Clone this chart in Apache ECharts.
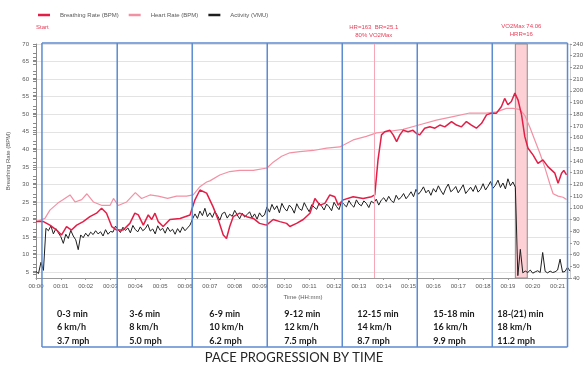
<!DOCTYPE html>
<html><head><meta charset="utf-8">
<script src="https://cdn.jsdelivr.net/npm/echarts@6/dist/echarts.min.js"></script>
<style>html,body{margin:0;padding:0;background:#fff}#c{width:588px;height:367px}</style>
</head><body><div id="c"></div>
<script>
// Breathing rate (BPM) — left axis
const brTimes = [0,0.3,0.56,0.83,1.03,1.23,1.43,1.64,1.9,2.17,2.44,2.64,2.84,3.05,3.25,3.51,3.78,3.98,4.12,4.32,4.52,4.66,4.79,4.92,5.12,5.39,5.8,6.2,6.4,6.6,6.87,7.13,7.34,7.54,7.67,7.8,7.94,8.2,8.48,8.75,9.0,9.28,9.55,9.82,10.09,10.22,10.49,10.76,11.03,11.23,11.43,11.63,11.83,12.03,12.17,12.37,12.77,13.17,13.51,13.64,13.77,13.91,14.04,14.25,14.38,14.52,14.65,14.78,14.98,15.18,15.32,15.45,15.65,15.86,16.06,16.26,16.46,16.73,16.93,17.13,17.33,17.53,17.73,17.94,18.14,18.34,18.54,18.74,18.87,19.0,19.14,19.28,19.41,19.55,19.68,19.81,20.01,20.21,20.41,20.62,20.89,21.02,21.16,21.25,21.36];
const brValues = [19.4,19.4,18.4,17,15.6,18,17,18.4,19.4,20.8,21.8,23.2,21.8,18,17,17,18.9,21.8,21.3,18.4,21.3,20,21.8,19.4,18,20,20.3,21.3,25.6,28.4,27.5,23.6,19.9,15.6,14.6,18,20.8,21.8,20.8,20.3,18.9,18.4,20,19.4,18.9,18,18.9,20,21.8,26,24.1,24.6,27,26.5,24.1,25.6,26.5,26,26.5,27,37,44.1,45,45.4,44.1,42.2,44.1,45.4,45,45.4,44.5,44.1,46,46.4,46,46.9,46.4,47.9,46.9,46.4,47.9,46.9,46,47.4,49.8,50.3,50.3,52.2,54.5,52.7,53.6,56,54,49.8,43.6,40.3,38.4,36,37,35,33.2,30.3,33.2,34,32.7];

// Heart rate (BPM) — right axis
const hrTimes = [0,0.36,0.56,0.88,1.1,1.37,1.57,1.84,2.05,2.31,2.66,2.98,3.12,3.31,3.65,4.0,4.25,4.59,4.92,5.3,5.66,6.06,6.33,6.6,6.87,7.0,7.4,7.8,8.2,8.75,9.3,9.55,9.89,10.22,10.62,11.16,11.7,12.23,12.77,13.3,13.71,14.1,14.78,15.45,16.12,16.79,17.46,18.14,18.54,18.94,19.21,19.48,19.68,19.88,20.08,20.28,20.48,20.68,20.82,21.02,21.22,21.36];
const hrValues = [88,91,98,104,107,111,105,107,112,105,102,102,108,102,105,113,108,111,110,108,110,110,111,118,122,123,128,131,132,132,134,139,144,147,148,149,151,152,158,161,164,165,167,171,175,178,181,181,182,185,185,184,179,169,158,147,135,121,112,110,109,107];

// Activity (VMU), one reading every 0.1 min from 00:00
const activityStep = 0.1;
const activityValues = [
5.2,4.6,7.8,5.5,17.5, 16.8,18.2,15.9,17.4,16.2,15.1,
13.2,15.8,14.6,16.9,15.3, 14.2,11.4,15.6,14.8,16.1,
15.2,16.4,15.7,16.8,15.9, 16.5,15.3,17.1,15.8,16.6,
16.4,18.1,17.2,16.3,17.8, 16.9,17.6,16.2,18.3,17.1,
16.5,17.9,16.8,17.4,18.6, 16.7,17.3,15.9,18.2,16.9,
17.5,16.1,17.8,16.6,17.2, 15.8,17.4,16.3,17.9,16.8,
17.6,18.4,20.1,21.6,20.3, 22.4,21.1,23.2,20.8,21.9,
20.6,22.3,21.2,19.8,21.7, 22.1,20.4,21.5,20.9,22.6,
21.3,20.2,21.8,20.7,21.4, 22.2,20.5,21.6,20.1,21.9,
20.8,21.3,23.6,22.1,24.3, 22.8,23.9,21.9,24.6,23.2,
22.4,24.1,23.3,21.8,24.5, 23.1,22.6,24.8,23.4,22.2,
24.2,23.5,22.9,24.7,23.8, 22.7,24.4,23.6,22.5,24.9,
23.7,22.8,25.1,24.3,23.6, 25.4,24.2,23.5,25.6,24.4,
23.9,25.3,24.6,23.4,25.2, 24.7,25.8,24.1,25.5,26.2,
25.1,26.6,25.4,24.8,26.9, 25.7,26.3,27.4,25.9,26.8,
27.9,26.5,28.6,27.2,28.1, 29.3,27.6,28.4,26.9,28.8,
27.8,29.6,28.2,27.1,28.9, 30.1,27.9,28.5,29.4,27.6,
28.7,29.9,27.4,28.3,29.2, 28.0,29.7,27.8,28.6,30.2,
28.4,29.5,30.8,28.9,29.8, 31.2,29.1,30.4,28.7,31.6,
29.6,30.7,29.2,4.0,11.5, 4.8,5.3,4.9,5.6,4.7,
5.1,5.4,4.9,10.6,5.2, 4.8,5.3,4.9,5.1,5.6,
8.7,5.0,5.2,6.4,5.3
];

// Left axis tick labels
const brTicks = [5,10,15,20,25,30,35,40,45,50,55,60,65,70];

// Annotations
const thresholdTime = 13.6;
const thresholdLabel = 'HR=163  BR=25.1\n80% VO2Max';
const vo2Start = 19.3, vo2End = 19.78;
const vo2Label = 'VO2Max 74.06\nHRR=16';

// Pace table
const phaseBounds = [0.24,3.27,6.29,9.31,12.33,15.35,18.37,21.4];
const phaseMinutes = ['0-3 min','3-6 min','6-9 min','9-12 min','12-15 min','15-18 min','18-(21) min'];
const phaseKmh = ['6 km/h','8 km/h','10 km/h','12 km/h','14 km/h','16 km/h','18 km/h'];
const phaseMph = ['3.7 mph','5.0 mph','6.2 mph','7.5 mph','8.7 mph','9.9 mph','11.2 mph'];
const tableTitle = 'PACE PROGRESSION BY TIME';

const zip = (a, b) => a.map((t, i) => [t, b[i]]);
const activityData = activityValues.map((v, i) => [+(i * activityStep).toFixed(1), v]);

const chart = echarts.init(document.getElementById('c'), null, {renderer: 'canvas'});
const axisFont = {fontSize: 6, color: '#595959', fontFamily: 'Liberation Sans'};

chart.setOption({
  animation: false,
  legend: {
    left: 38, top: 12, padding: 0, itemWidth: 12, itemHeight: 2.5, itemGap: 10, icon: 'rect',
    textStyle: {fontSize: 6, color: '#595959', fontFamily: 'Liberation Sans', padding: [0,0,0,5]},
    data: ['Breathing Rate (BPM)', 'Heart Rate (BPM)', 'Activity (VMU)']
  },
  grid: {left: 36, right: 18, top: 44, bottom: 89, containLabel: false, outerBoundsMode: 'none'},
  xAxis: {
    type: 'value', min: 0, max: 21.5, interval: 1,
    name: 'Time (HH:mm)', nameLocation: 'middle', nameGap: 14,
    nameTextStyle: axisFont,
    axisLine: {lineStyle: {color: '#9a9a9a'}},
    axisTick: {show: true, length: 2, lineStyle: {color: '#9a9a9a'}},
    axisLabel: Object.assign({margin: 5, showMaxLabel: false,
      formatter: v => Number.isInteger(v) ? '00:' + String(v).padStart(2, '0') : ''}, axisFont),
    splitLine: {show: false}
  },
  yAxis: [{
    type: 'value', min: 10/3, max: 70, interval: 5,
    name: 'Breathing Rate (BPM)', nameLocation: 'middle', nameGap: 13, nameRotate: 90,
    nameTextStyle: axisFont,
    axisLine: {show: true, lineStyle: {color: '#8a8a8a'}},
    axisTick: {show: true, length: 3, customValues: brTicks, lineStyle: {color: '#8a8a8a'}},
    minorTick: {show: true, splitNumber: 5, length: 3, lineStyle: {color: '#8a8a8a'}},
    axisLabel: Object.assign({margin: 7, customValues: brTicks}, axisFont),
    splitLine: {show: true, lineStyle: {color: '#e3e3e3', width: 1}}
  }, {
    type: 'value', min: 40, max: 240, interval: 10, position: 'right',
    name: 'Heart Rate (BPM)', nameLocation: 'middle', nameGap: 14, nameRotate: 90,
    nameTextStyle: {fontSize: 5, color: '#595959', fontFamily: 'Liberation Sans'},
    axisLine: {show: true, lineStyle: {color: '#cfcfcf'}},
    axisTick: {show: true, length: 2, lineStyle: {color: '#9a9a9a'}},
    axisLabel: Object.assign({margin: 3}, axisFont),
    splitLine: {show: false}
  }],
  series: [{
    name: 'Activity (VMU)', type: 'line', yAxisIndex: 0, showSymbol: false, symbol: 'none',
    data: activityData, z: 2,
    lineStyle: {color: '#1e1e1e', width: 1}, itemStyle: {color: '#1e1e1e'}
  }, {
    name: 'Heart Rate (BPM)', type: 'line', yAxisIndex: 1, symbol: 'none',
    data: zip(hrTimes, hrValues), z: 3,
    lineStyle: {color: '#f391a4', width: 1.2}, itemStyle: {color: '#f391a4'},
    markLine: {
      silent: true, symbol: 'none',
      lineStyle: {color: '#f7a6b5', width: 1, type: 'solid'},
      label: {position: 'end', color: '#e8405a', fontSize: 6, lineHeight: 8, fontFamily: 'Liberation Sans'},
      data: [
        {xAxis: thresholdTime, label: {formatter: thresholdLabel}},
        {xAxis: 0, lineStyle: {color: 'rgba(0,0,0,0)'}, label: {formatter: 'Start\n ', align: 'left'}}
      ]
    }
  }, {
    name: 'Breathing Rate (BPM)', type: 'line', yAxisIndex: 0, symbol: 'none',
    data: zip(brTimes, brValues), z: 4,
    lineStyle: {color: '#e31e47', width: 1.5}, itemStyle: {color: '#e31e47'},
    markArea: {
      silent: true,
      itemStyle: {color: '#fcd0d4', borderColor: '#8c8c8c', borderWidth: 1},
      label: {position: 'top', color: '#e8405a', fontSize: 6, lineHeight: 8, fontFamily: 'Liberation Sans', formatter: vo2Label},
      data: [[{xAxis: vo2Start}, {xAxis: vo2End}]]
    }
  }]
});

// Pace table overlay, positioned from the time axis
const px = t => chart.convertToPixel({xAxisIndex: 0}, t);
const topY = chart.convertToPixel({yAxisIndex: 0}, 70) - 1;
const bottomY = 347;
const blue = '#5b8bd1';
const textOffsets = [15, 12, 17, 17, 15, 16, 5];
const graphics = [];
const xs = phaseBounds.map(px);
graphics.push({type: 'line', z: 100, shape: {x1: xs[0], y1: topY, x2: xs[xs.length-1], y2: topY}, style: {stroke: blue, lineWidth: 1.5}});
graphics.push({type: 'line', z: 100, shape: {x1: xs[0], y1: bottomY, x2: xs[xs.length-1], y2: bottomY}, style: {stroke: blue, lineWidth: 1.5}});
xs.forEach(x => graphics.push({type: 'line', z: 100, shape: {x1: x, y1: topY, x2: x, y2: bottomY}, style: {stroke: blue, lineWidth: 1.5}}));
phaseMinutes.forEach((m, i) => {
  graphics.push({type: 'text', z: 101, left: xs[i] + textOffsets[i], top: 307,
    style: {text: m + '\n' + phaseKmh[i] + '\n' + phaseMph[i], font: 'bold 9px Lato', lineHeight: 13.5, fill: '#1a1a1a'}});
});
graphics.push({type: 'text', z: 101, left: 'center', top: 351,
  style: {text: tableTitle, font: '13px Lato', fill: '#262626'}});
chart.setOption({graphic: graphics});
</script>
</body></html>
